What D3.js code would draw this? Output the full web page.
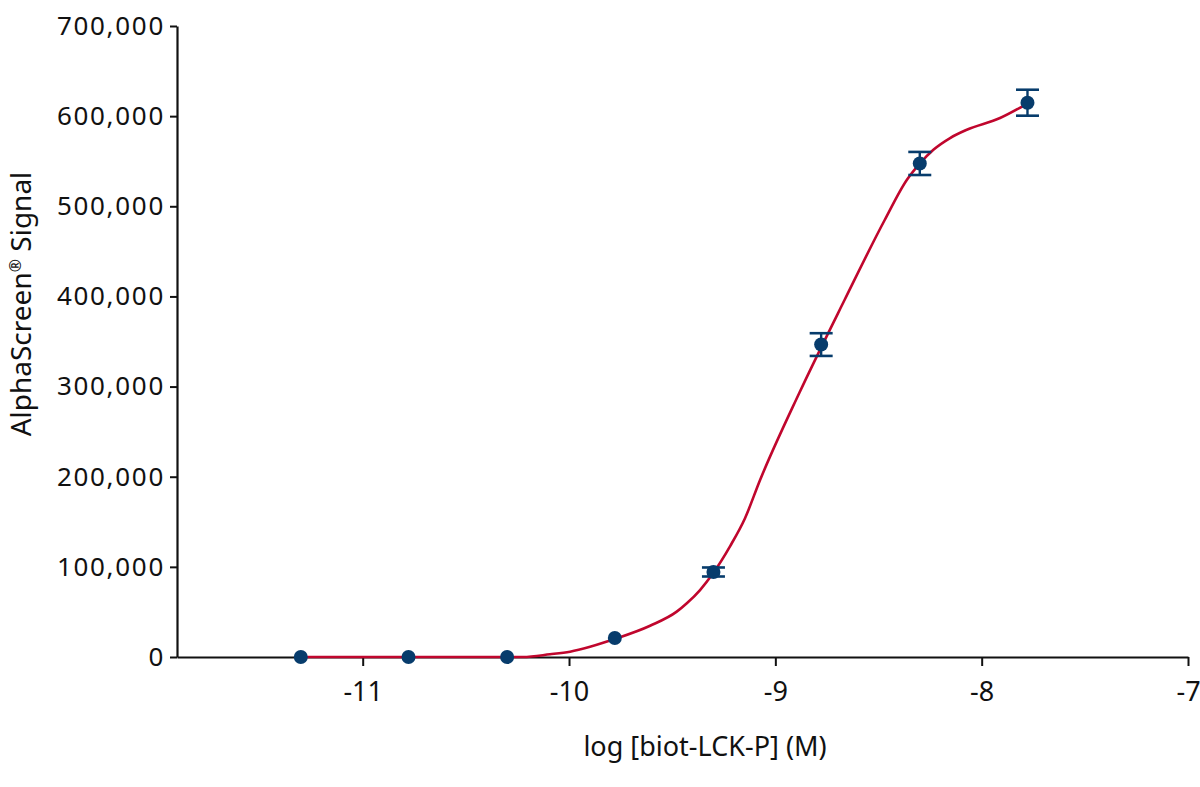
<!DOCTYPE html>
<html>
<head>
<meta charset="utf-8">
<script src="https://cdn.jsdelivr.net/npm/d3@7"></script>
<style>
  html, body { margin: 0; padding: 0; background: #fff; }
  svg { display: block; }
  text { font-family: "Noto Sans", "Open Sans", sans-serif; fill: #111; }
</style>
</head>
<body>
<svg id="chart" width="1200" height="787"></svg>
<script>
// Measured data points: log concentration (M), AlphaScreen signal, error (SD)
const logConc = [-11.3, -10.778, -10.3, -9.778, -9.3, -8.778, -8.3, -7.778];
const signal  = [0, 0, 0, 21000, 94300, 346600, 547500, 614900];
const errors  = [0, 0, 0, 0, 5000, 12600, 12800, 14400];

// Fitted curve
const curveX = [-11.3, -10.9, -10.5, -10.223, -10.092, -9.995, -9.769, -9.607, -9.478, -9.429, -9.365, -9.302, -9.219, -9.147, -9.074, -8.884, -8.664, -8.470, -8.363, -8.298, -8.234, -8.153, -8.072, -7.911, -7.789];
const curveY = [0, 0, 0, 0, 3000, 5900, 20700, 34700, 50300, 59600, 74300, 92900, 123100, 154000, 196400, 292900, 396300, 484800, 529200, 547900, 562700, 575700, 584900, 597900, 612600];

const xTicks = [-11, -10, -9, -8, -7];
const yTicks = [0, 100000, 200000, 300000, 400000, 500000, 600000, 700000];

const xLabel = "log [biot-LCK-P] (M)";
const yLabelMain = "AlphaScreen";
const yLabelSup = "®";
const yLabelTail = " Signal";

const svg = d3.select("#chart");
const x = d3.scaleLinear().domain([-11.9, -7]).range([177, 1188]);
const y = d3.scaleLinear().domain([0, 700000]).range([657, 26]);

const fmt = d3.format(",");

// Y axis
const yAxis = svg.append("g")
  .attr("transform", `translate(${x.range()[0]},0)`)
  .call(d3.axisLeft(y).tickValues(yTicks).tickFormat(d => fmt(d)).tickSize(7).tickPadding(5).tickSizeOuter(0));
yAxis.select(".domain").attr("stroke", "#111").attr("stroke-width", 2.2);
yAxis.selectAll(".tick line").attr("stroke", "#111").attr("stroke-width", 2);
yAxis.selectAll(".tick text").attr("font-size", 26).attr("letter-spacing", 1.7)
  .attr("font-family", "'Noto Sans', sans-serif").attr("fill", "#111");

// X axis
const xAxis = svg.append("g")
  .attr("transform", `translate(0,${y(0)})`)
  .call(d3.axisBottom(x).tickValues(xTicks).tickFormat(d => d).tickSize(9).tickPadding(16).tickSizeOuter(0));
xAxis.select(".domain").attr("stroke", "#111").attr("stroke-width", 2.2);
xAxis.selectAll(".tick text").attr("font-size", 27)
  .attr("font-family", "'Noto Sans', sans-serif").attr("fill", "#111");
xAxis.selectAll(".tick line").attr("stroke", "#111").attr("stroke-width", 2);

// Axis titles
svg.append("text")
  .attr("x", 705).attr("y", 756)
  .attr("text-anchor", "middle")
  .attr("font-size", 27)
  .text(xLabel);

const yt = svg.append("text")
  .attr("transform", "translate(31,304) rotate(-90)")
  .attr("text-anchor", "middle")
  .attr("font-size", 28);
yt.append("tspan").text(yLabelMain);
yt.append("tspan").attr("font-size", 16).attr("dy", -10).text(yLabelSup);
yt.append("tspan").attr("dy", 10).text(yLabelTail);

// Fitted curve
const curvePts = curveX.map((d, i) => [d, curveY[i]]);
svg.append("path")
  .datum(curvePts)
  .attr("fill", "none")
  .attr("stroke", "#c0062d")
  .attr("stroke-width", 2.6)
  .attr("d", d3.line().x(d => x(d[0])).y(d => y(d[1])).curve(d3.curveMonotoneX));

// Error bars
const pts = logConc.map((d, i) => ({ x: d, y: signal[i], e: errors[i] }));
const navy = "#073c6c";
const eb = svg.append("g").selectAll("g").data(pts.filter(d => d.e > 0)).join("g");
eb.append("line")
  .attr("x1", d => x(d.x)).attr("x2", d => x(d.x))
  .attr("y1", d => y(d.y - d.e)).attr("y2", d => y(d.y + d.e))
  .attr("stroke", navy).attr("stroke-width", 2.4);
eb.append("line")
  .attr("x1", d => x(d.x) - 11.5).attr("x2", d => x(d.x) + 11.5)
  .attr("y1", d => y(d.y + d.e)).attr("y2", d => y(d.y + d.e))
  .attr("stroke", navy).attr("stroke-width", 2.6);
eb.append("line")
  .attr("x1", d => x(d.x) - 11.5).attr("x2", d => x(d.x) + 11.5)
  .attr("y1", d => y(d.y - d.e)).attr("y2", d => y(d.y - d.e))
  .attr("stroke", navy).attr("stroke-width", 2.6);

// Points
svg.append("g").selectAll("circle").data(pts).join("circle")
  .attr("cx", d => x(d.x)).attr("cy", d => y(d.y))
  .attr("r", 7)
  .attr("fill", navy);
</script>
</body>
</html>
